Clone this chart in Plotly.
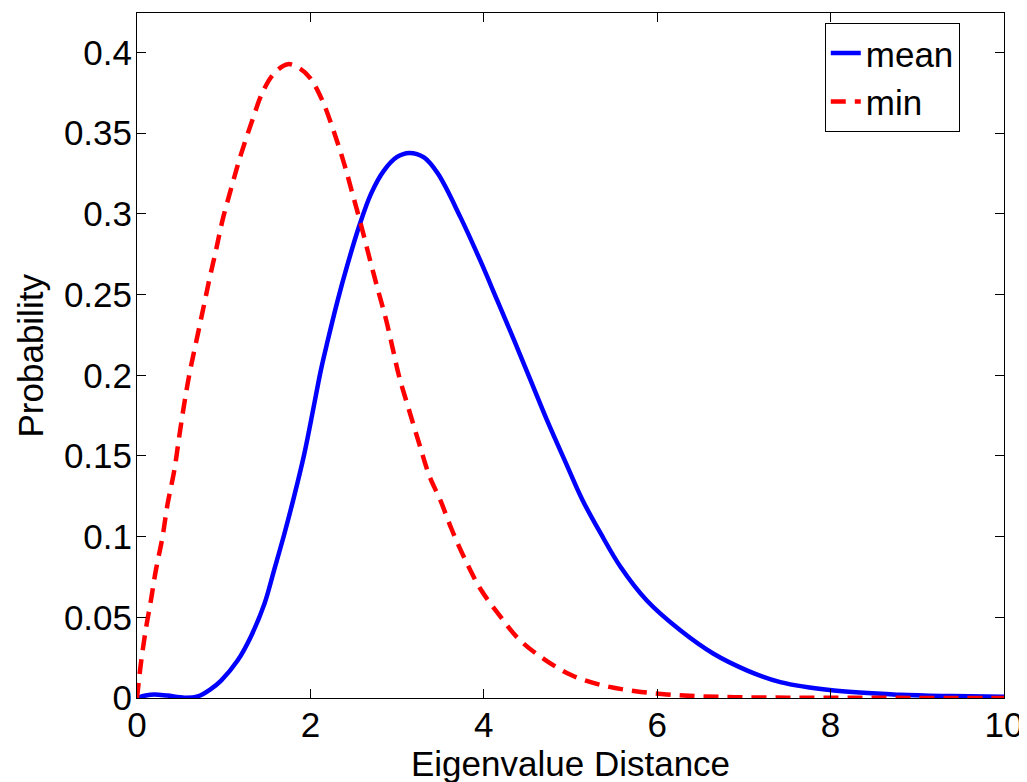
import plotly.graph_objects as go

# ---- data ----
mean_x = [0.00, 0.10, 0.20, 0.35, 0.55, 0.70, 0.85, 0.97, 1.16, 1.31, 1.47, 1.58,
          1.70, 1.81, 1.93, 2.04, 2.12, 2.20, 2.31, 2.43, 2.56, 2.70, 2.85, 3.00,
          3.14, 3.31, 3.47, 3.73, 3.96, 4.155, 4.35, 4.54, 4.73, 4.96, 5.135,
          5.35, 5.58, 5.88, 6.27, 6.65, 7.04, 7.42, 8.04, 8.80, 9.40, 10.0]
mean_y = [0.000, 0.0015, 0.0022, 0.0015, 0.0002, 0.0010, 0.0055, 0.0108, 0.0232,
          0.0377, 0.0584, 0.0790, 0.1018, 0.1245, 0.1514, 0.1810, 0.2030, 0.2215,
          0.2455, 0.2690, 0.2920, 0.3126, 0.3270, 0.3353, 0.3378, 0.3350, 0.3250,
          0.2980, 0.2710, 0.2464, 0.2216, 0.1968, 0.1720, 0.1440, 0.1230, 0.1018,
          0.0810, 0.0604, 0.0418, 0.0274, 0.0170, 0.0098, 0.0046, 0.0020, 0.0012,
          0.0008]

min_x = [0.00, 0.044, 0.10, 0.16, 0.217, 0.294, 0.352, 0.43, 0.487, 0.544, 0.602,
         0.678, 0.755, 0.833, 0.909, 0.986, 1.10, 1.20, 1.33, 1.45, 1.58, 1.74,
         1.88, 2.00, 2.14, 2.27, 2.39, 2.485, 2.58, 2.68, 2.77, 2.87, 2.95, 3.02,
         3.14, 3.255, 3.37, 3.50, 3.635, 3.79, 3.96, 4.17, 4.40, 4.69, 5.02, 5.38,
         5.75, 6.11, 6.46, 6.90, 7.50, 8.50, 10.0]
min_y = [0.000, 0.021, 0.042, 0.0604, 0.079, 0.0997, 0.120, 0.141, 0.162, 0.182,
         0.200, 0.2196, 0.239, 0.259, 0.277, 0.296, 0.3185, 0.337, 0.358, 0.3756,
         0.387, 0.3928, 0.390, 0.384, 0.370, 0.351, 0.331, 0.3126, 0.294, 0.273,
         0.2547, 0.235, 0.2165, 0.200, 0.178, 0.1576, 0.138, 0.1224, 0.1038,
         0.0852, 0.0677, 0.052, 0.0367, 0.0243, 0.0139, 0.0077, 0.0042, 0.0022,
         0.0011, 0.0005, 0.0002, 0.0001, 0.0]

x_ticks = [0, 2, 4, 6, 8, 10]
y_ticks = [0, 0.05, 0.1, 0.15, 0.2, 0.25, 0.3, 0.35, 0.4]
y_ticktext = ["0", "0.05", "0.1", "0.15", "0.2", "0.25", "0.3", "0.35", "0.4"]
x_title = "Eigenvalue Distance"
y_title = "Probability"

FONT = "Liberation Sans, Arial, Helvetica, sans-serif"
FS = 35

fig = go.Figure()
fig.add_trace(go.Scatter(x=mean_x, y=mean_y, mode="lines", name="mean",
                         line=dict(color="#0000ff", width=4.5, shape="spline", smoothing=1.0)))
fig.add_trace(go.Scatter(x=min_x, y=min_y, mode="lines", name="min",
                         line=dict(color="#ff0000", width=4.5, dash="15px,9px",
                                   shape="spline", smoothing=1.0)))

axis_common = dict(showgrid=False, zeroline=False, showline=True, linecolor="black",
                   linewidth=1, mirror="ticks", ticks="inside", ticklen=9,
                   tickcolor="black", tickwidth=1, automargin=False,
                   tickfont=dict(family=FONT, size=FS, color="black"))

# the page body has an 8px default margin, so the figure is 8px smaller than the window
fig.update_layout(
    width=1019, height=774, autosize=False,
    margin=dict(l=129, r=23, t=5, b=84),
    paper_bgcolor="white", plot_bgcolor="white",
    font=dict(family=FONT, size=FS, color="black"),
    xaxis=dict(range=[0, 10], tickvals=x_ticks, ticklabelstandoff=-4, **axis_common),
    yaxis=dict(range=[0, 0.4245], tickvals=y_ticks, ticktext=y_ticktext,
               ticklabelstandoff=-3, **axis_common),
    legend=dict(x=0.949, y=0.9858, xanchor="right", yanchor="top",
                bgcolor="white", bordercolor="black", borderwidth=1,
                font=dict(family=FONT, size=FS, color="black"),
                tracegroupgap=0),
    showlegend=True,
    annotations=[
        dict(text=x_title, xref="paper", yref="paper", x=0.5, y=-0.0957,
             xanchor="center", yanchor="middle", showarrow=False,
             font=dict(family=FONT, size=FS, color="black")),
        dict(text=y_title, xref="paper", yref="paper", x=-0.1234, y=0.5,
             xanchor="center", yanchor="middle", textangle=-90, showarrow=False,
             font=dict(family=FONT, size=FS, color="black")),
    ],
)

fig.write_html("out.html")
